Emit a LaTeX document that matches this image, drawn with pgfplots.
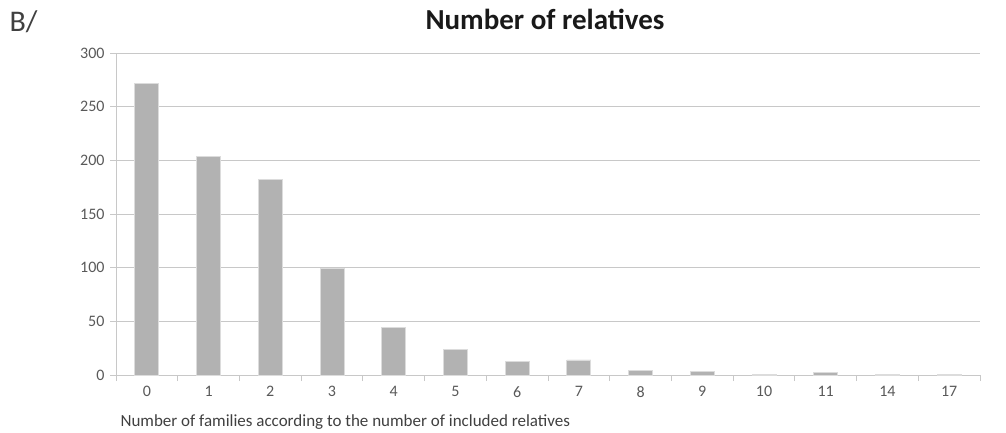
\documentclass[border=0pt]{standalone}
\usepackage{pgfplots}
\pgfplotsset{compat=1.18}
\usepackage{fontspec}
\setmainfont{Carlito}
\definecolor{barfill}{HTML}{B2B2B2}
\definecolor{baredge}{HTML}{DCDCDC}
\definecolor{gridc}{HTML}{C8C8C8}
\definecolor{tickc}{HTML}{595959}
\begin{document}
\begin{tikzpicture}
\path[use as bounding box] (0,0) rectangle (1006pt,-432pt);
\begin{axis}[
  at={(116pt,-375pt)}, anchor=south west,
  scale only axis, width=864pt, height=322pt,
  ybar, bar width=24pt,
  xmin=-0.5, xmax=13.5, ymin=0, ymax=300,
  ytick={0,50,...,300},
  xtick={0,...,13},
  xticklabels={0,1,2,3,4,5,6,7,8,9,10,11,14,17},
  minor xtick={-0.5,0.5,...,13.5},
  major x tick style={draw=none},
  minor tick length=6pt, major tick length=6pt,
  tick align=outside,
  axis x line*=bottom, axis y line*=left,
  axis line style={draw=gridc, line width=0.8pt},
  tick style={draw=gridc, line width=0.8pt},
  ymajorgrids, grid style={draw=gridc, line width=0.8pt},
  ticklabel style={font=\fontsize{16}{18}\selectfont, text=tickc},
  /pgf/number format/assume math mode=true,
  xticklabel style={yshift=-2pt},
  yticklabel style={xshift=-2pt},
]
\addplot[fill=barfill, draw=baredge, line width=0.8pt] coordinates {
 (0,272) (1,204) (2,182) (3,99) (4,44) (5,24) (6,13) (7,14)
 (8,4) (9,3) (10,0.6) (11,2) (12,0.6) (13,0.6)};
\end{axis}
\node[font=\fontsize{29}{33}\selectfont\bfseries, text=black!90] at (545pt,-19pt) {Number of relatives};
\node[font=\fontsize{30}{34}\selectfont, text=black!75, anchor=west] at (6pt,-22pt) {B/};
\node[font=\fontsize{17}{20}\selectfont, text=black!75, anchor=west] at (117pt,-422pt) {Number of families according to the number of included relatives};
\end{tikzpicture}
\end{document}
